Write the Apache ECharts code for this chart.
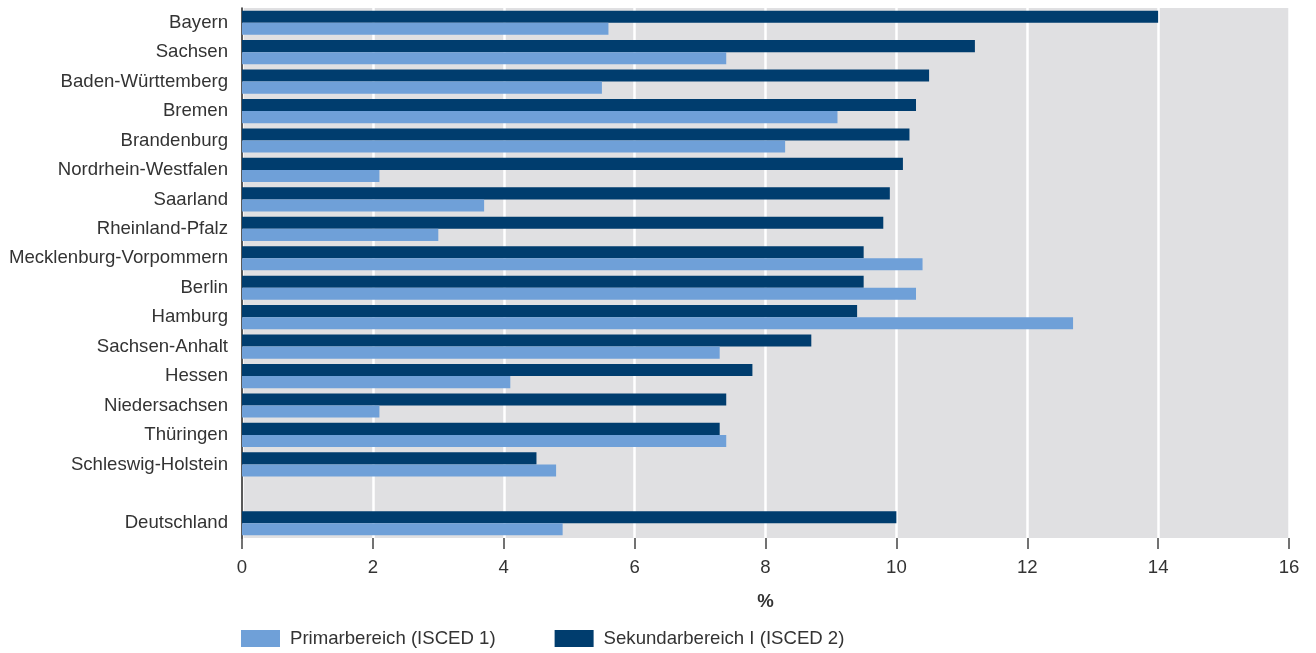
<!DOCTYPE html>
<html><head><meta charset="utf-8">
<script src="https://cdn.jsdelivr.net/npm/echarts@6/dist/echarts.min.js"></script>
<style>html,body{margin:0;padding:0;background:#fff}#c{width:1316px;height:653px}</style>
</head><body><div id="c"></div>
<script>
const categories = ['Bayern','Sachsen','Baden-Württemberg','Bremen','Brandenburg','Nordrhein-Westfalen','Saarland','Rheinland-Pfalz','Mecklenburg-Vorpommern','Berlin','Hamburg','Sachsen-Anhalt','Hessen','Niedersachsen','Thüringen','Schleswig-Holstein','','Deutschland'];
const primar = [5.6,7.4,5.5,9.1,8.3,2.1,3.7,3.0,10.4,10.3,12.7,7.3,4.1,2.1,7.4,4.8,null,4.9];
const sekundar = [14.0,11.2,10.5,10.3,10.2,10.1,9.9,9.8,9.5,9.5,9.4,8.7,7.8,7.4,7.3,4.5,null,10.0];
const xTicks = [0,2,4,6,8,10,12,14,16];
const seriesNames = ['Primarbereich (ISCED 1)','Sekundarbereich I (ISCED 2)'];

const chart = echarts.init(document.getElementById('c'));
const font = 'Liberation Sans, Arial, sans-serif';
const fs = 18.6;
chart.setOption({
  animation:false,
  textStyle:{fontFamily:font},
  grid:{left:242,right:27,top:8,bottom:115,show:true,backgroundColor:'#e0e0e2',borderWidth:0},
  legend:{
    data:seriesNames, left:236, top:624, itemWidth:39, itemHeight:17, itemGap:59, icon:'rect',
    textStyle:{fontSize:fs,color:'#333',fontFamily:font,padding:[0,0,0,5]}
  },
  xAxis:{
    type:'value', min:xTicks[0], max:xTicks[xTicks.length-1], interval:2,
    name:'%', nameLocation:'middle', nameGap:54,
    nameTextStyle:{fontSize:fs,fontWeight:'bold',color:'#333',fontFamily:font},
    axisLine:{show:false},
    axisTick:{show:true,length:11,lineStyle:{color:'#444',width:1.5}},
    axisLabel:{fontSize:fs,color:'#333',margin:20,fontFamily:font},
    splitLine:{show:true,lineStyle:{color:'#ffffff',width:2.5}}
  },
  yAxis:{
    type:'category', data:categories, inverse:true,
    axisLine:{show:true,lineStyle:{color:'#222',width:1.5}},
    axisTick:{show:false},
    axisLabel:{fontSize:fs,color:'#333',margin:14,fontFamily:font}
  },
  series:[
    {name:seriesNames[1],type:'bar',data:sekundar,itemStyle:{color:'#003d6e'},barGap:'0%',barCategoryGap:'18%'},
    {name:seriesNames[0],type:'bar',data:primar,itemStyle:{color:'#6fa0d8'},barGap:'0%',barCategoryGap:'18%'}
  ]
});
</script></body></html>
